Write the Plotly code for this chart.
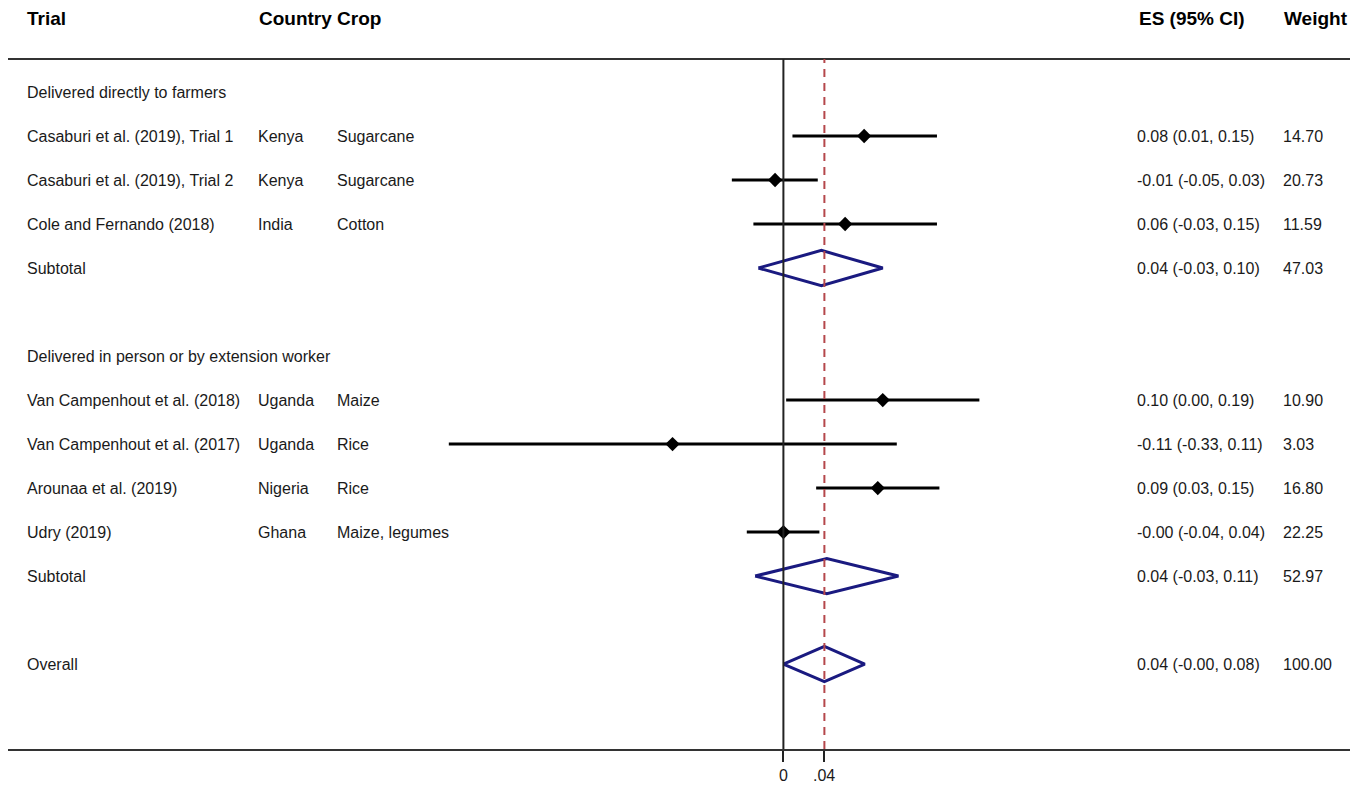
import plotly.graph_objects as go

# ---------------- data ----------------
trials = ["Casaburi et al. (2019), Trial 1", "Casaburi et al. (2019), Trial 2",
          "Cole and Fernando (2018)", "Van Campenhout et al. (2018)",
          "Van Campenhout et al. (2017)", "Arounaa et al. (2019)", "Udry (2019)"]
countries = ["Kenya", "Kenya", "India", "Uganda", "Uganda", "Nigeria", "Ghana"]
crops = ["Sugarcane", "Sugarcane", "Cotton", "Maize", "Rice", "Rice", "Maize, legumes"]
es = [0.0794, -0.0082, 0.0607, 0.0977, -0.109, 0.0928, 0.0]
ci_lo = [0.0089, -0.0507, -0.0295, 0.0027, -0.329, 0.0322, -0.036]
ci_hi = [0.151, 0.0338, 0.151, 0.1927, 0.1115, 0.1534, 0.0354]
es_text = ["0.08 (0.01, 0.15)", "-0.01 (-0.05, 0.03)", "0.06 (-0.03, 0.15)",
           "0.10 (0.00, 0.19)", "-0.11 (-0.33, 0.11)", "0.09 (0.03, 0.15)",
           "-0.00 (-0.04, 0.04)"]
weights = ["14.70", "20.73", "11.59", "10.90", "3.03", "16.80", "22.25"]
trial_rows = [2, 3, 4, 8, 9, 10, 11]

pool_labels = ["Subtotal", "Subtotal", "Overall"]
pool_es = [0.0374, 0.0427, 0.0403]
pool_lo = [-0.0246, -0.0278, 0.0]
pool_hi = [0.0977, 0.1131, 0.080]
pool_text = ["0.04 (-0.03, 0.10)", "0.04 (-0.03, 0.11)", "0.04 (-0.00, 0.08)"]
pool_weights = ["47.03", "52.97", "100.00"]
pool_rows = [5, 12, 14]

groups = ["Delivered directly to farmers", "Delivered in person or by extension worker"]
group_rows = [1, 7]

headers = ["Trial", "Country Crop", "ES (95% CI)", "Weight"]
tick_vals = [0, 0.04]
tick_text = ["0", ".04"]
overall_es = pool_es[-1]

# ---------------- layout helpers ----------------
OFF = 8                      # page body margin of the html page
W, H = 1365 - OFF, 789 - OFF
# target page-pixel geometry
P_LEFT, P_RIGHT, P_TOP, P_BOTTOM = 8, 1350, 59, 749
L = P_LEFT - OFF
R = (1365 - P_RIGHT)
T = P_TOP - OFF
B = 789 - P_BOTTOM
PW = W - L - R
PH = H - T - B
X0_PIX, SCALE = 783.4, 1017.0   # page pixel of x=0, pixels per unit
TXT_SHIFT = -2                   # annotation inner padding compensation

def px(p):
    return (p + TXT_SHIFT - P_LEFT) / PW

def py(p):
    return (P_BOTTOM - p) / PH

FONT = "Liberation Sans, Arial, Helvetica, sans-serif"
TXT = "#1a1a1a"

fig = go.Figure()

# confidence intervals
for lo, hi, r in zip(ci_lo, ci_hi, trial_rows):
    fig.add_trace(go.Scatter(x=[lo, hi], y=[r, r], mode="lines",
                             line=dict(color="black", width=3),
                             hoverinfo="skip", showlegend=False))
# point estimates
fig.add_trace(go.Scatter(x=es, y=trial_rows, mode="markers",
                         marker=dict(symbol="diamond", size=11, color="black"),
                         showlegend=False))

# pooled diamonds
hh = 0.4
for lo, e, hi, r in zip(pool_lo, pool_es, pool_hi, pool_rows):
    fig.add_trace(go.Scatter(x=[lo, e, hi, e, lo], y=[r, r - hh, r, r + hh, r],
                             mode="lines", line=dict(color="#1a1a80", width=3),
                             hoverinfo="skip", showlegend=False))

shapes = [
    dict(type="line", xref="paper", yref="paper", x0=0, x1=1, y0=1, y1=1,
         line=dict(color="#333333", width=2)),
    dict(type="line", xref="x", yref="paper", x0=0, x1=0, y0=0, y1=1,
         line=dict(color="#222222", width=2)),
    dict(type="line", xref="x", yref="paper", x0=overall_es, x1=overall_es, y0=0, y1=1,
         line=dict(color="#b5474b", width=2, dash="8px,6px")),
]

ann = []
hx = [27, 259, 1139, 1284]
for h, x in zip(headers, hx):
    ann.append(dict(text="<b>%s</b>" % h, x=px(x), y=py(19), xref="paper", yref="paper",
                    xanchor="left", yanchor="middle", showarrow=False,
                    font=dict(size=19, color="black", family=FONT)))
for g, r in zip(groups, group_rows):
    ann.append(dict(text=g, x=px(27), y=r, xref="paper", yref="y", xanchor="left",
                    yanchor="middle", showarrow=False, font=dict(size=16, color=TXT, family=FONT)))
cols = [(trials, 27), (countries, 258), (crops, 337), (es_text, 1137), (weights, 1283)]
for vals, x in cols:
    for v, r in zip(vals, trial_rows):
        ann.append(dict(text=v, x=px(x), y=r, xref="paper", yref="y", xanchor="left",
                        yanchor="middle", showarrow=False,
                        font=dict(size=16, color=TXT, family=FONT)))
for vals, x in [(pool_labels, 27), (pool_text, 1137), (pool_weights, 1283)]:
    for v, r in zip(vals, pool_rows):
        ann.append(dict(text=v, x=px(x), y=r, xref="paper", yref="y", xanchor="left",
                        yanchor="middle", showarrow=False,
                        font=dict(size=16, color=TXT, family=FONT)))

fig.update_layout(
    width=W, height=H,
    margin=dict(l=L, r=R, t=T, b=B, pad=0),
    paper_bgcolor="white", plot_bgcolor="white",
    xaxis=dict(range=[(P_LEFT - X0_PIX) / SCALE, (P_RIGHT - X0_PIX) / SCALE],
               showgrid=False, zeroline=False, showline=True,
               linecolor="#333333", linewidth=2, ticks="outside", ticklen=11,
               tickwidth=2, tickcolor="#222222", tickvals=tick_vals, ticktext=tick_text,
               tickfont=dict(size=16, color=TXT, family=FONT), fixedrange=True),
    yaxis=dict(range=[15.93, 0.25], showgrid=False, zeroline=False, showline=False,
               showticklabels=False, ticks="", fixedrange=True),
    shapes=shapes, annotations=ann,
    showlegend=False,
)

fig.write_html("out.html")
